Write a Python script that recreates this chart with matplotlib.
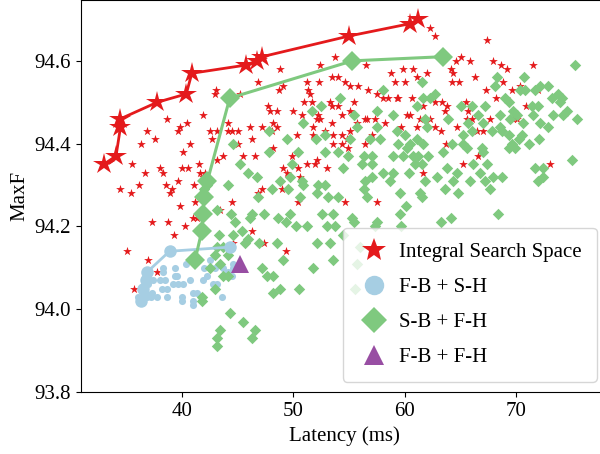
import matplotlib
matplotlib.use("Agg")
import matplotlib.pyplot as plt
from matplotlib.lines import Line2D

# (latency ms, MaxF)
red_pts = [
    (43.1, 94.53), (43.0, 94.52), (45.2, 94.52), (46.8, 94.55), (41.9, 94.47), (38.7, 94.46),
    (40.5, 94.45), (39.8, 94.44), (39.7, 94.43), (36.9, 94.43), (37.6, 94.41), (36.3, 94.40),
    (40.7, 94.40), (42.5, 94.43), (42.7, 94.41), (43.2, 94.43), (44.1, 94.43), (44.5, 94.43),
    (45.0, 94.43), (44.1, 94.45), (46.1, 94.44), (46.3, 94.41), (45.0, 94.40), (40.1, 94.38),
    (43.7, 94.37), (45.5, 94.37), (46.6, 94.37), (35.5, 94.35), (38.0, 94.34), (38.3, 94.33),
    (36.7, 94.33), (40.0, 94.34), (40.6, 94.34), (41.5, 94.35), (41.6, 94.33), (42.1, 94.33),
    (34.5, 94.29), (35.4, 94.28), (36.2, 94.30), (38.6, 94.30), (39.1, 94.29), (38.9, 94.28),
    (39.7, 94.31), (41.1, 94.30), (43.2, 94.36), (39.8, 94.25), (41.2, 94.26), (41.9, 94.32),
    (35.1, 94.14), (35.7, 94.05), (37.0, 94.12), (37.8, 94.09), (37.3, 94.21), (38.8, 94.21),
    (39.3, 94.18), (40.3, 94.20), (41.0, 94.22), (41.4, 94.22), (43.4, 94.24), (44.5, 94.26),
    (46.3, 94.19), (47.4, 94.16), (49.3, 94.14), (44.6, 94.16), (50.4, 94.26),
    (53.7, 94.61), (52.4, 94.59), (48.8, 94.58), (56.5, 94.59), (49.1, 94.54), (48.7, 94.53),
    (51.2, 94.55), (52.3, 94.55), (53.5, 94.56), (54.0, 94.56), (54.6, 94.55), (55.8, 94.54),
    (56.7, 94.53), (55.1, 94.54), (51.3, 94.53), (51.5, 94.52), (51.0, 94.50), (51.7, 94.50),
    (53.3, 94.50), (53.5, 94.49), (54.0, 94.49), (55.4, 94.50), (55.1, 94.48), (47.7, 94.49),
    (47.9, 94.48), (48.5, 94.48), (50.0, 94.48), (50.8, 94.47), (52.2, 94.47), (52.4, 94.46),
    (52.1, 94.46), (54.4, 94.47), (53.5, 94.45), (56.6, 94.46), (56.4, 94.46), (57.3, 94.46),
    (58.2, 94.45), (47.2, 94.44), (48.2, 94.45), (48.1, 94.43), (48.5, 94.44), (50.3, 94.42),
    (51.8, 94.44), (52.8, 94.43), (51.8, 94.42), (53.6, 94.42), (54.4, 94.42), (55.1, 94.43),
    (55.7, 94.45), (57.1, 94.42), (54.8, 94.41), (56.4, 94.40), (54.4, 94.40), (53.6, 94.40),
    (54.9, 94.39), (48.2, 94.39), (49.9, 94.37), (51.2, 94.35), (52.1, 94.36), (51.9, 94.35),
    (53.0, 94.34), (49.1, 94.34), (49.4, 94.33), (50.4, 94.34), (50.6, 94.32), (47.2, 94.29),
    (46.8, 94.28), (49.0, 94.29), (57.5, 94.52), (58.0, 94.51), (58.8, 94.57), (59.8, 94.58),
    (59.1, 94.55), (60.0, 94.55), (58.5, 94.51), (59.3, 94.51), (59.4, 94.51), (60.6, 94.51),
    (60.7, 94.58), (62.0, 94.57), (61.1, 94.56), (60.2, 94.47), (60.5, 94.47), (59.7, 94.44),
    (61.4, 94.46), (61.1, 94.44), (61.6, 94.33), (62.3, 94.68), (62.7, 94.66), (67.4, 94.65),
    (64.1, 94.58), (64.3, 94.57), (64.2, 94.55), (64.9, 94.55), (64.6, 94.60), (65.0, 94.61),
    (65.8, 94.60), (66.3, 94.56), (67.9, 94.60), (68.6, 94.59), (69.2, 94.58), (71.5, 94.59),
    (67.3, 94.53), (68.2, 94.51), (68.8, 94.55), (69.1, 94.51), (69.6, 94.53), (70.3, 94.54),
    (71.9, 94.53), (65.5, 94.50), (65.7, 94.48), (65.6, 94.46), (63.8, 94.49), (63.6, 94.48),
    (63.3, 94.50), (62.7, 94.50), (61.6, 94.51), (61.6, 94.49), (62.3, 94.46), (62.7, 94.44),
    (63.2, 94.43), (64.7, 94.44), (66.0, 94.46), (67.6, 94.46), (66.5, 94.43), (67.0, 94.43),
    (69.7, 94.46), (70.1, 94.46), (70.9, 94.49), (63.7, 94.40), (65.2, 94.35), (66.6, 94.37),
    (73.0, 94.35), (54.6, 94.26), (57.5, 94.26),
]
red_front = [
    (33.0, 94.35), (34.1, 94.37), (34.5, 94.44), (34.5, 94.46), (37.8, 94.50), (40.4, 94.52),
    (40.9, 94.57), (45.8, 94.59), (46.7, 94.60), (47.2, 94.61), (55.0, 94.66), (60.5, 94.69),
    (61.2, 94.70),
]

blue_pts = [
    (36.4, 94.02), (36.9, 94.03), (37.3, 94.04), (37.8, 94.03), (38.7, 94.03), (39.4, 94.10),
    (39.4, 94.08), (38.3, 94.10), (38.0, 94.07), (38.5, 94.07), (39.2, 94.06), (39.7, 94.06),
    (40.1, 94.06), (40.4, 94.11), (40.7, 94.07), (41.0, 94.04), (41.4, 94.04), (40.0, 94.03),
    (40.0, 94.02), (41.0, 94.02), (41.0, 94.01), (41.9, 94.07), (42.0, 94.10), (42.3, 94.08),
    (42.5, 94.12), (42.8, 94.06), (43.0, 94.10), (43.2, 94.06), (43.6, 94.03), (43.7, 94.10),
    (44.1, 94.09), (44.5, 94.08), (44.6, 94.10), (44.6, 94.11), (38.2, 94.05), (37.4, 94.07),
    (37.0, 94.06), (36.8, 94.04), (37.2, 94.03), (38.7, 94.05), (39.6, 94.08), (36.1, 94.03),
    (36.7, 94.03), (38.3, 94.09),
]
blue_front = [(36.3, 94.02), (36.5, 94.05), (36.8, 94.07), (36.9, 94.09), (38.9, 94.14), (44.3, 94.15)]

green_pts = [
    (47.8, 94.43), (44.6, 94.40), (47.8, 94.38), (45.2, 94.35), (45.9, 94.33), (46.7, 94.32),
    (49.9, 94.35), (49.4, 94.41), (50.4, 94.38), (52.5, 94.49), (51.7, 94.48), (52.8, 94.42),
    (52.0, 94.41), (48.8, 94.31), (49.5, 94.29), (50.8, 94.31), (50.9, 94.30), (44.1, 94.30),
    (46.8, 94.27), (50.6, 94.27), (52.1, 94.28), (52.8, 94.30), (42.3, 94.30), (42.0, 94.29),
    (43.2, 94.24), (44.4, 94.23), (44.8, 94.21), (45.4, 94.19), (44.6, 94.18), (43.3, 94.18),
    (43.2, 94.15), (43.7, 94.15), (44.1, 94.13), (42.5, 94.10), (43.4, 94.11), (45.7, 94.16),
    (45.9, 94.17), (46.9, 94.16), (46.3, 94.23), (47.4, 94.23), (46.1, 94.22), (48.6, 94.22),
    (49.3, 94.21), (49.7, 94.23), (50.2, 94.20), (51.2, 94.20), (48.5, 94.16), (49.1, 94.12),
    (47.2, 94.10), (47.6, 94.08), (48.2, 94.08), (48.2, 94.04), (48.8, 94.05), (50.5, 94.05),
    (51.8, 94.10), (52.6, 94.23), (53.0, 94.20), (52.1, 94.16), (53.3, 94.16), (53.6, 94.12),
    (43.7, 94.08), (43.0, 94.05), (41.8, 94.03), (41.8, 94.02), (44.3, 93.99), (45.5, 93.97),
    (46.6, 93.95), (46.3, 93.93), (43.4, 93.95), (43.2, 93.93), (43.2, 93.91), (44.1, 94.08),
    (43.0, 94.13),
    (58.0, 94.53), (61.5, 94.55), (54.2, 94.51), (57.5, 94.48), (58.9, 94.47), (55.4, 94.47),
    (61.6, 94.51), (61.8, 94.46), (62.0, 94.44), (61.1, 94.49), (50.9, 94.45), (52.8, 94.38),
    (54.0, 94.38), (55.1, 94.41), (55.7, 94.44), (57.5, 94.44), (57.8, 94.41), (56.9, 94.41),
    (59.3, 94.43), (59.4, 94.40), (60.0, 94.42), (60.5, 94.40), (61.1, 94.41), (60.2, 94.39),
    (61.6, 94.40), (54.9, 94.37), (56.3, 94.37), (57.1, 94.37), (58.9, 94.37), (59.8, 94.37),
    (60.7, 94.37), (61.2, 94.37), (62.1, 94.37), (61.5, 94.35), (60.9, 94.35), (60.4, 94.33),
    (61.8, 94.31), (58.9, 94.33), (58.0, 94.33), (57.1, 94.35), (56.2, 94.35), (54.5, 94.34),
    (49.7, 94.32), (52.2, 94.30), (56.4, 94.31), (56.3, 94.29), (57.1, 94.32), (58.7, 94.31),
    (59.6, 94.28), (61.4, 94.28), (48.1, 94.29), (53.1, 94.27), (54.0, 94.27), (56.6, 94.27),
    (75.3, 94.59), (62.7, 94.52), (62.3, 94.51), (65.0, 94.49), (66.0, 94.49), (66.6, 94.47),
    (67.2, 94.49), (68.3, 94.56), (68.1, 94.54), (69.0, 94.51), (69.3, 94.50), (70.3, 94.53),
    (70.8, 94.53), (70.7, 94.56), (71.7, 94.53), (72.1, 94.54), (72.8, 94.54), (73.2, 94.51),
    (73.7, 94.52), (74.1, 94.51), (73.9, 94.50), (71.4, 94.49), (71.9, 94.49), (71.5, 94.47),
    (69.7, 94.48), (70.1, 94.47), (69.4, 94.46), (68.5, 94.47), (70.6, 94.45), (70.5, 94.42),
    (70.2, 94.41), (71.1, 94.40), (72.1, 94.45), (72.8, 94.44), (72.0, 94.41), (73.3, 94.47),
    (74.2, 94.47), (74.5, 94.48), (75.4, 94.46), (63.9, 94.46), (65.7, 94.45), (67.0, 94.45),
    (67.8, 94.43), (68.5, 94.44), (66.0, 94.43), (65.2, 94.42), (65.2, 94.40), (65.6, 94.39),
    (66.9, 94.39), (67.0, 94.38), (67.4, 94.35), (66.1, 94.35), (66.7, 94.33), (67.9, 94.32),
    (68.7, 94.32), (67.2, 94.31), (65.8, 94.31), (67.6, 94.29), (64.3, 94.31), (64.7, 94.33),
    (63.8, 94.34), (62.9, 94.32), (63.4, 94.38), (64.2, 94.40), (63.6, 94.29), (64.8, 94.28),
    (69.6, 94.40), (69.9, 94.39), (69.3, 94.39), (71.7, 94.34), (72.4, 94.34), (72.4, 94.32),
    (71.9, 94.31), (75.0, 94.36), (68.7, 94.43), (69.3, 94.42),
    (68.4, 94.23), (53.6, 94.23), (55.3, 94.22), (55.4, 94.21), (57.5, 94.21), (59.6, 94.23),
    (61.5, 94.27), (63.2, 94.21), (64.1, 94.22), (60.1, 94.25), (53.7, 94.20), (57.3, 94.20),
    (54.5, 94.18), (56.0, 94.15), (55.7, 94.11), (55.5, 94.05), (59.7, 94.20),
]
green_front = [
    (41.2, 94.12), (41.8, 94.19), (41.9, 94.23), (42.0, 94.27), (42.3, 94.31), (44.3, 94.51),
    (55.3, 94.60), (63.4, 94.61),
]

purple_pt = [(45.2, 94.11)]

labels = ["Integral Search Space", "F-B + S-H", "S-B + F-H", "F-B + F-H"]

RED = "#e41a1c"
BLUE = "#a6cee3"
GREEN = "#7fc97f"
PURPLE = "#984ea3"

plt.rcParams["font.family"] = ["Liberation Serif", "DejaVu Serif"]
plt.rcParams["font.size"] = 15


def xy(pts):
    return [p[0] for p in pts], [p[1] for p in pts]


fig = plt.figure(figsize=(6, 4.54), dpi=100)
ax = fig.add_axes([81 / 600, 62 / 454, 526 / 600, 392 / 454])

# red: whole search space
x, y = xy(red_pts)
ax.scatter(x, y, marker="*", s=44, color=RED, linewidths=0)
x, y = xy(red_front)
ax.plot(x, y, color=RED, lw=2, marker="*", ms=16, mew=0)

# blue
x, y = xy(blue_pts)
ax.scatter(x, y, marker="o", s=26, color=BLUE, linewidths=0)
x, y = xy(blue_front)
ax.plot(x, y, color=BLUE, lw=2, marker="o", ms=9, mew=0)

# green
x, y = xy(green_pts)
ax.scatter(x, y, marker="D", s=34, color=GREEN, linewidths=0)
x, y = xy(green_front)
ax.plot(x, y, color=GREEN, lw=2.2, marker="D", ms=10, mew=0)

# purple single point
x, y = xy(purple_pt)
ax.plot(x, y, ls="none", marker="^", ms=13, color=PURPLE, mew=0)

ax.set_xlim(30.96, 78.13)
ax.set_ylim(93.8, 94.747)
ax.set_xticks([40, 50, 60, 70])
ax.set_yticks([93.8, 94.0, 94.2, 94.4, 94.6])
ax.set_xlabel("Latency (ms)")
ax.set_ylabel("MaxF")

handles = [
    Line2D([], [], ls="none", marker="*", ms=18, color=RED, mew=0),
    Line2D([], [], ls="none", marker="o", ms=14, color=BLUE, mew=0),
    Line2D([], [], ls="none", marker="D", ms=13, color=GREEN, mew=0),
    Line2D([], [], ls="none", marker="^", ms=14, color=PURPLE, mew=0),
]
ax.legend(handles, labels, loc="lower right", fontsize=15, borderpad=0.7,
          handlelength=1.6, handletextpad=0.4, labelspacing=0.74, borderaxespad=0.5)

fig.savefig("out.png", dpi=100)
